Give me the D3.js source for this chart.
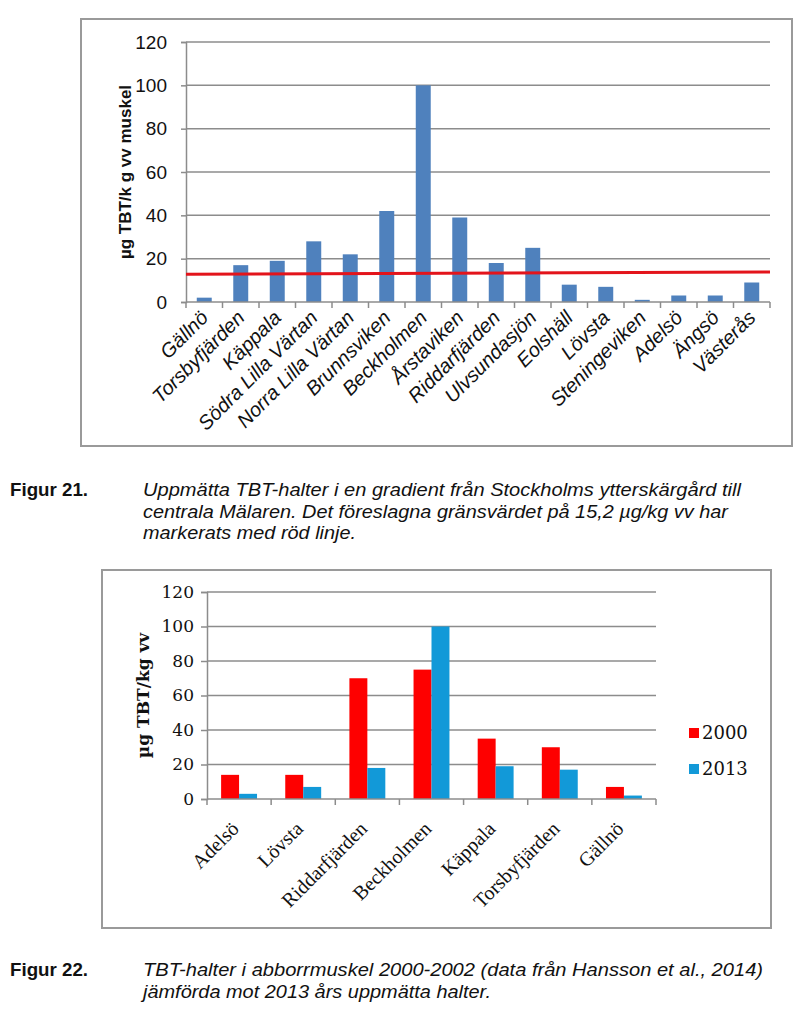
<!DOCTYPE html>
<html>
<head>
<meta charset="utf-8">
<script src="https://cdn.jsdelivr.net/npm/d3@7"></script>
<style>
  html, body { margin: 0; padding: 0; background: #fff; }
  svg { display: block; }
</style>
</head>
<body>
<svg id="chart" width="796" height="1024"></svg>
<script>
// ---------- Data ----------
const sites1 = ["Gällnö","Torsbyfjärden","Käppala","Södra Lilla Värtan","Norra Lilla Värtan","Brunnsviken","Beckholmen","Årstaviken","Riddarfjärden","Ulvsundasjön","Eolshäll","Lövsta","Steningeviken","Adelsö","Ängsö","Västerås"];
const tbt1 = [2, 17, 19, 28, 22, 42, 100, 39, 18, 25, 8, 7, 1, 3, 3, 9];
const redLine = [12.8, 13.9]; // drawn reference line, left and right ends
const yTicks = [0, 20, 40, 60, 80, 100, 120];

const sites2 = ["Adelsö","Lövsta","Riddarfjärden","Beckholmen","Käppala","Torsbyfjärden","Gällnö"];
const series2 = ["2000", "2013"];
const tbt2000 = [14, 14, 70, 75, 35, 30, 7];
const tbt2013 = [3, 7, 18, 100, 19, 17, 2];

const caption21Label = "Figur 21.";
const caption21 = [
  "Uppmätta TBT-halter i en gradient från Stockholms ytterskärgård till",
  "centrala Mälaren. Det föreslagna gränsvärdet på 15,2 µg/kg vv har",
  "markerats med röd linje."
];
const caption22Label = "Figur 22.";
const caption22 = [
  "TBT-halter i abborrmuskel 2000-2002 (data från Hansson et al., 2014)",
  "jämförda mot 2013 års uppmätta halter."
];

const svg = d3.select("#chart");
const gridColor = "#8c8c8c";

// ---------- Chart 1 ----------
(function () {
  const sans = "'Liberation Sans', Arial, sans-serif";
  svg.append("rect").attr("x", 81).attr("y", 19).attr("width", 711).attr("height", 427)
    .attr("fill", "#fff").attr("stroke", "#9a9a9a").attr("stroke-width", 2);

  const left = 186, right = 770, top = 42, bottom = 302;
  const x = d3.scaleBand().domain(sites1).range([left, right]).paddingInner(0.59).paddingOuter(0.295);
  const xb = d3.scaleBand().domain(sites1).range([left, right]);
  const y = d3.scaleLinear().domain([0, 120]).range([bottom, top]);

  svg.append("g").selectAll("line").data(yTicks.filter(d => d > 0)).join("line")
    .attr("x1", left).attr("x2", right).attr("y1", d => y(d)).attr("y2", d => y(d))
    .attr("stroke", gridColor).attr("stroke-width", 1.5);

  const ya = svg.append("g").attr("transform", `translate(${left},0)`)
    .call(d3.axisLeft(y).tickValues(yTicks).tickSize(5).tickPadding(14));
  ya.select(".domain").attr("stroke", gridColor).attr("stroke-width", 1.5);
  ya.selectAll(".tick line").attr("stroke", gridColor).attr("stroke-width", 1.5);
  ya.selectAll("text").attr("font-family", sans).attr("font-size", 19).attr("fill", "#111");

  svg.append("g").selectAll("rect").data(sites1).join("rect")
    .attr("x", d => x(d)).attr("width", x.bandwidth())
    .attr("y", (d, i) => y(tbt1[i])).attr("height", (d, i) => y(0) - y(tbt1[i]))
    .attr("fill", "#4f81bd");

  svg.append("line").attr("x1", left).attr("x2", right).attr("y1", bottom).attr("y2", bottom)
    .attr("stroke", gridColor).attr("stroke-width", 1.5);
  const tickXs = sites1.map(d => xb(d)).concat([right]);
  svg.append("g").selectAll("line").data(tickXs).join("line")
    .attr("x1", d => d).attr("x2", d => d).attr("y1", bottom).attr("y2", bottom + 6)
    .attr("stroke", gridColor).attr("stroke-width", 1.5);

  svg.append("g").selectAll("text").data(sites1).join("text")
    .attr("transform", d => `translate(${xb(d) + xb.bandwidth() / 2 + 5},${bottom + 17}) rotate(-45)`)
    .attr("text-anchor", "end")
    .attr("font-family", sans).attr("font-size", 20).attr("font-style", "italic").attr("fill", "#111")
    .text(d => d);

  svg.append("line")
    .attr("x1", left).attr("x2", right)
    .attr("y1", y(redLine[0])).attr("y2", y(redLine[1]))
    .attr("stroke", "#e3141b").attr("stroke-width", 3);

  svg.append("text")
    .attr("transform", `translate(131,${(top + bottom) / 2}) rotate(-90)`)
    .attr("text-anchor", "middle")
    .attr("font-family", sans).attr("font-size", 17).attr("font-weight", "bold").attr("fill", "#111")
    .text("µg TBT/k g vv muskel");
})();

// ---------- Captions ----------
function caption(label, lines, baseline0, ends) {
  const sans = "'Liberation Sans', Arial, sans-serif";
  svg.append("text").attr("x", 10).attr("y", baseline0)
    .attr("font-family", sans).attr("font-size", 18).attr("font-weight", "bold").attr("fill", "#111")
    .attr("textLength", 78).attr("lengthAdjust", "spacingAndGlyphs")
    .text(label);
  lines.forEach((t, i) => {
    svg.append("text").attr("x", 143).attr("y", baseline0 + i * 21.5)
      .attr("font-family", sans).attr("font-size", 18).attr("font-style", "italic").attr("fill", "#111")
      .attr("textLength", ends[i] - 143).attr("lengthAdjust", "spacingAndGlyphs")
      .text(t);
  });
}
caption(caption21Label, caption21, 496, [741, 728, 356]);

// ---------- Chart 2 ----------
(function () {
  const serif = "'DejaVu Serif', Georgia, serif";
  const times = "'Liberation Serif', 'Times New Roman', serif";
  svg.append("rect").attr("x", 102).attr("y", 570).attr("width", 669).attr("height", 358)
    .attr("fill", "#fff").attr("stroke", "#9a9a9a").attr("stroke-width", 2);

  const left = 207, right = 656, top = 592, bottom = 799;
  const x0 = d3.scaleBand().domain(sites2).range([left, right]);
  const bw = x0.bandwidth();
  const x1 = d3.scaleBand().domain(series2).range([bw * 0.22, bw * 0.78]);
  const y = d3.scaleLinear().domain([0, 120]).range([bottom, top]);
  const colors = { "2000": "#fe0000", "2013": "#1299d8" };
  const vals = { "2000": tbt2000, "2013": tbt2013 };

  svg.append("g").selectAll("line").data(yTicks.filter(d => d > 0)).join("line")
    .attr("x1", left).attr("x2", right).attr("y1", d => y(d)).attr("y2", d => y(d))
    .attr("stroke", gridColor).attr("stroke-width", 1.5);

  const ya = svg.append("g").attr("transform", `translate(${left},0)`)
    .call(d3.axisLeft(y).tickValues(yTicks).tickSize(6).tickPadding(7));
  ya.select(".domain").attr("stroke", gridColor).attr("stroke-width", 1.5);
  ya.selectAll(".tick line").attr("stroke", gridColor).attr("stroke-width", 1.5);
  ya.selectAll("text").attr("font-family", serif).attr("font-size", 17).attr("fill", "#111");

  const groups = svg.append("g").selectAll("g").data(sites2).join("g")
    .attr("transform", d => `translate(${x0(d)},0)`);
  groups.selectAll("rect").data((d, i) => series2.map(s => ({ s, v: vals[s][i] }))).join("rect")
    .attr("x", d => x1(d.s)).attr("width", x1.bandwidth())
    .attr("y", d => y(d.v)).attr("height", d => y(0) - y(d.v))
    .attr("fill", d => colors[d.s]);

  svg.append("line").attr("x1", left).attr("x2", right).attr("y1", bottom).attr("y2", bottom)
    .attr("stroke", gridColor).attr("stroke-width", 1.5);
  const tickXs = sites2.map(d => x0(d)).concat([right]);
  svg.append("g").selectAll("line").data(tickXs).join("line")
    .attr("x1", d => d).attr("x2", d => d).attr("y1", bottom).attr("y2", bottom + 6)
    .attr("stroke", gridColor).attr("stroke-width", 1.5);

  svg.append("g").selectAll("text").data(sites2).join("text")
    .attr("transform", d => `translate(${x0(d) + bw / 2 + 1},${bottom + 31}) rotate(-45)`)
    .attr("text-anchor", "end")
    .attr("font-family", times).attr("font-size", 20).attr("fill", "#111")
    .text(d => d);

  svg.append("text")
    .attr("transform", `translate(149,${(top + bottom) / 2}) rotate(-90)`)
    .attr("text-anchor", "middle")
    .attr("font-family", serif).attr("font-size", 17).attr("font-weight", "bold").attr("fill", "#111")
    .text("µg TBT/kg vv");

  const lg = svg.append("g").selectAll("g").data(series2).join("g")
    .attr("transform", (d, i) => `translate(689,${733 + i * 36})`);
  lg.append("rect").attr("x", 0).attr("y", -5).attr("width", 10).attr("height", 10)
    .attr("fill", d => colors[d]);
  lg.append("text").attr("x", 13).attr("y", 6)
    .attr("font-family", serif).attr("font-size", 18).attr("fill", "#111")
    .text(d => d);
})();

caption(caption22Label, caption22, 976, [763, 491]);
</script>
</body>
</html>
